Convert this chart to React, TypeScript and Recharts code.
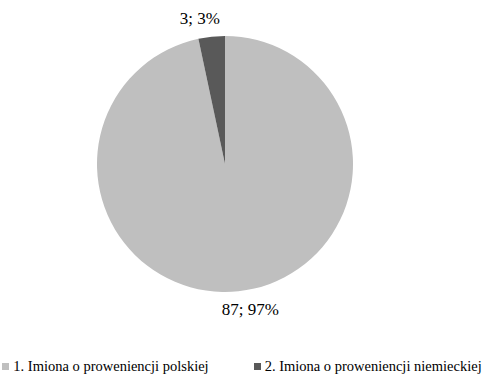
import React from "react";
import { PieChart, Pie, Cell, Legend } from "recharts";

const categories = ["1. Imiona o proweniencji polskiej", "2. Imiona o proweniencji niemieckiej"];
const counts = [87, 3];
const percents = [97, 3];
const colors = ["#BFBFBF", "#595959"];

const data = categories.map((name, i) => ({ name, value: counts[i], pct: percents[i] }));

const FONT = "'Liberation Serif', 'Times New Roman', serif";
const RAD = Math.PI / 180;

const renderLabel = (props: any) => {
  const { cx, cy, midAngle, outerRadius, payload } = props;
  const r = outerRadius + 18;
  const cos = Math.cos(-midAngle * RAD);
  const x = cx + r * cos + Math.sign(cos) * 10;
  const y = cy + r * Math.sin(-midAngle * RAD);
  return (
    <text x={x} y={y} textAnchor="middle" dominantBaseline="central" fill="#000" fontSize={17} fontFamily={FONT}>
      {`${payload.value}; ${payload.pct}%`}
    </text>
  );
};

const renderLegend = (props: any) => {
  const { payload } = props;
  return (
    <div style={{ display: "flex", justifyContent: "center", gap: 45, fontFamily: FONT, fontSize: 14.5, color: "#000", whiteSpace: "nowrap" }}>
      {payload.map((p: any, i: number) => (
        <span key={i} style={{ display: "flex", alignItems: "center" }}>
          <span style={{ width: 7, height: 7, background: p.color, display: "inline-block", marginRight: 4 }} />
          {p.value}
        </span>
      ))}
    </div>
  );
};

export default function App() {
  return (
    <div style={{ position: "absolute", left: 0, top: 0, width: 484, height: 377, background: "#fff", overflow: "hidden" }}>
      <PieChart width={484} height={377} margin={{ top: 0, right: 0, bottom: 0, left: 0 }}>
        <Pie
          data={data}
          dataKey="value"
          nameKey="name"
          cx={225}
          cy={164}
          outerRadius={128}
          startAngle={90}
          endAngle={-270}
          stroke="none"
          label={renderLabel}
          labelLine={false}
          isAnimationActive={false}
        >
          {data.map((d, i) => (
            <Cell key={d.name} fill={colors[i]} />
          ))}
        </Pie>
        <Legend verticalAlign="bottom" content={renderLegend} wrapperStyle={{ bottom: 2 }} />
      </PieChart>
    </div>
  );
}
